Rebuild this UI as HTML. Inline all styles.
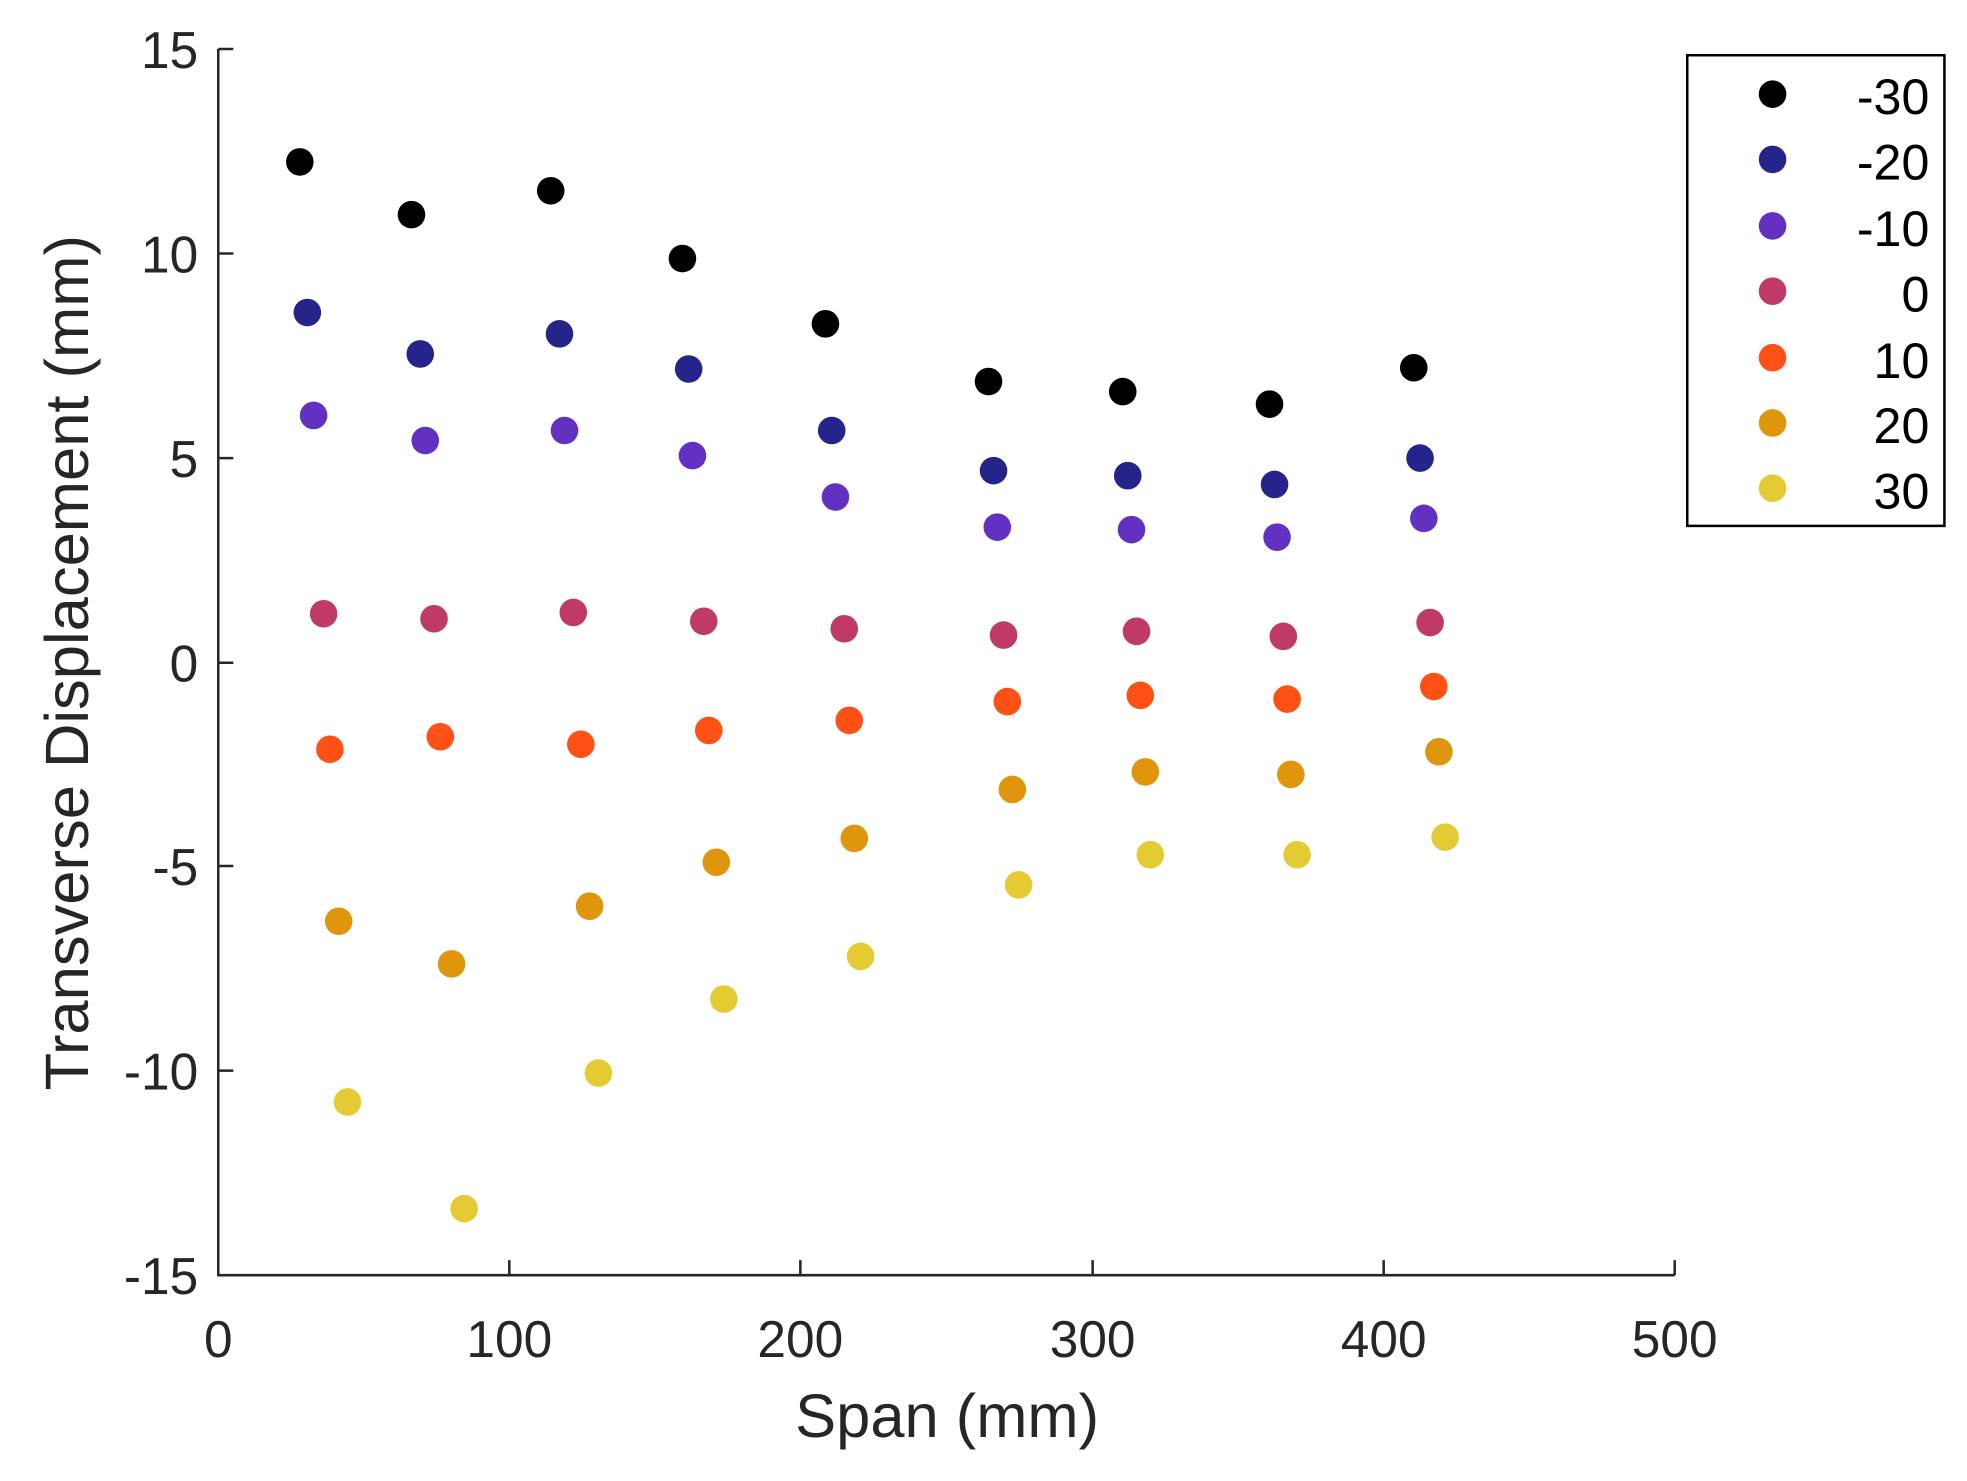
<!DOCTYPE html>
<html><head><style>html,body{margin:0;padding:0;background:#fff}</style></head>
<body>
<svg width="1967" height="1476" viewBox="0 0 1568 1176" preserveAspectRatio="none" xmlns="http://www.w3.org/2000/svg" font-family="Liberation Sans, sans-serif" fill="#262626">
<g stroke="#262626" stroke-width="2" fill="none">
<path d="M174,39 V1016 H1335"/>
<path d="M174,39 h12 M174,202 h12 M174,365 h12 M174,528 h12 M174,690 h12 M174,853 h12"/>
<path d="M406,1016 v-12 M638,1016 v-12 M871,1016 v-12 M1103,1016 v-12 M1335,1016 v-12"/>
<rect x="1345" y="44" width="205" height="375" stroke="#000"/>
</g>
<g font-size="41" text-anchor="end">
<text x="158" y="54">15</text><text x="158" y="217">10</text><text x="158" y="380">5</text>
<text x="158" y="543">0</text><text x="158" y="705">-5</text><text x="158" y="868">-10</text><text x="158" y="1031">-15</text>
</g>
<g font-size="41" text-anchor="middle">
<text x="174" y="1081">0</text><text x="406" y="1081">100</text><text x="638" y="1081">200</text>
<text x="871" y="1081">300</text><text x="1103" y="1081">400</text><text x="1335" y="1081">500</text>
<text x="755" y="1145" font-size="49">Span (mm)</text>
<text transform="translate(70,528) rotate(-90)" font-size="49">Transverse Displacement (mm)</text>
</g>
<g id="pts">
<g fill="#000"><circle cx="239" cy="129" r="11"/><circle cx="328" cy="171" r="11"/><circle cx="439" cy="152" r="11"/><circle cx="544" cy="206" r="11"/><circle cx="658" cy="258" r="11"/><circle cx="788" cy="304" r="11"/><circle cx="895" cy="312" r="11"/><circle cx="1012" cy="322" r="11"/><circle cx="1127" cy="293" r="11"/></g>
<g fill="#25248a"><circle cx="245" cy="249" r="11"/><circle cx="335" cy="282" r="11"/><circle cx="446" cy="266" r="11"/><circle cx="549" cy="294" r="11"/><circle cx="663" cy="343" r="11"/><circle cx="792" cy="375" r="11"/><circle cx="899" cy="379" r="11"/><circle cx="1016" cy="386" r="11"/><circle cx="1132" cy="365" r="11"/></g>
<g fill="#6231c2"><circle cx="250" cy="331" r="11"/><circle cx="339" cy="351" r="11"/><circle cx="450" cy="343" r="11"/><circle cx="552" cy="363" r="11"/><circle cx="666" cy="396" r="11"/><circle cx="795" cy="420" r="11"/><circle cx="902" cy="422" r="11"/><circle cx="1018" cy="428" r="11"/><circle cx="1135" cy="413" r="11"/></g>
<g fill="#c03a66"><circle cx="258" cy="489" r="11"/><circle cx="346" cy="493" r="11"/><circle cx="457" cy="488" r="11"/><circle cx="561" cy="495" r="11"/><circle cx="673" cy="501" r="11"/><circle cx="800" cy="506" r="11"/><circle cx="906" cy="503" r="11"/><circle cx="1023" cy="507" r="11"/><circle cx="1140" cy="496" r="11"/></g>
<g fill="#fd5116"><circle cx="263" cy="597" r="11"/><circle cx="351" cy="587" r="11"/><circle cx="463" cy="593" r="11"/><circle cx="565" cy="582" r="11"/><circle cx="677" cy="574" r="11"/><circle cx="803" cy="559" r="11"/><circle cx="909" cy="554" r="11"/><circle cx="1026" cy="557" r="11"/><circle cx="1143" cy="547" r="11"/></g>
<g fill="#df950c"><circle cx="270" cy="734" r="11"/><circle cx="360" cy="768" r="11"/><circle cx="470" cy="722" r="11"/><circle cx="571" cy="687" r="11"/><circle cx="681" cy="668" r="11"/><circle cx="807" cy="629" r="11"/><circle cx="913" cy="615" r="11"/><circle cx="1029" cy="617" r="11"/><circle cx="1147" cy="599" r="11"/></g>
<g fill="#e5cb33"><circle cx="277" cy="878" r="11"/><circle cx="370" cy="963" r="11"/><circle cx="477" cy="855" r="11"/><circle cx="577" cy="796" r="11"/><circle cx="686" cy="762" r="11"/><circle cx="812" cy="705" r="11"/><circle cx="917" cy="681" r="11"/><circle cx="1034" cy="681" r="11"/><circle cx="1152" cy="667" r="11"/></g>
</g>
<circle cx="1413" cy="75" r="11" fill="#000"/><circle cx="1413" cy="127" r="11" fill="#25248a"/>
<circle cx="1413" cy="180" r="11" fill="#6231c2"/><circle cx="1413" cy="232" r="11" fill="#c03a66"/>
<circle cx="1413" cy="285" r="11" fill="#fd5116"/><circle cx="1413" cy="337" r="11" fill="#df950c"/>
<circle cx="1413" cy="389" r="11" fill="#e5cb33"/>
<g font-size="40" text-anchor="end" fill="#000">
<text x="1538" y="91">-30</text><text x="1538" y="143">-20</text><text x="1538" y="196">-10</text>
<text x="1538" y="248">0</text><text x="1538" y="301">10</text><text x="1538" y="353">20</text><text x="1538" y="405">30</text>
</g>
</svg>
</body></html>
